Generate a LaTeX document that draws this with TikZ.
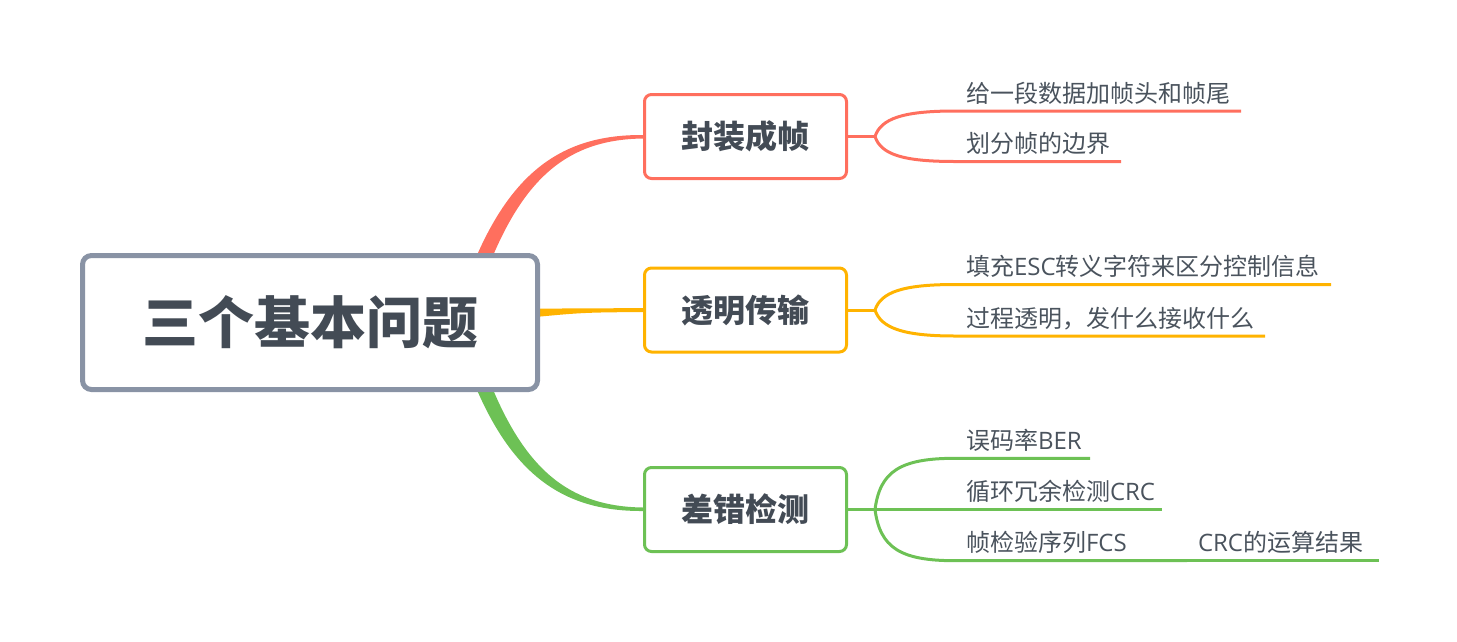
\documentclass[tikz,border=0pt]{standalone}
\usepackage{fontspec}
\setmainfont{Open Sans}
\newfontfamily\cjk{Noto Sans CJK SC}
\newfontfamily\lat{Open Sans}
\usetikzlibrary{calc}
\pgfdeclarelayer{bg}
\pgfsetlayers{bg,main}
\definecolor{cred}{HTML}{FF6F5E}
\definecolor{cyel}{HTML}{FFB300}
\definecolor{cgrn}{HTML}{6DC155}
\definecolor{cgray}{HTML}{8993A5}
\definecolor{ctext}{HTML}{434B55}
\definecolor{cleaf}{HTML}{4A535D}
\newcommand{\lf}[2]{\makebox[#1pt][l]{#2}}
\begin{document}
\begin{tikzpicture}[x=1pt,y=-1pt,
 rootbox/.style={draw=cgray, line width=5pt, fill=white, rounded corners=9pt, minimum width=455pt, minimum height=134pt, inner sep=0pt, text=ctext, font=\cjk\bfseries\fontsize{56}{56}\selectfont},
 topicbox/.style={draw=#1, line width=3pt, fill=white, rounded corners=7pt, minimum width=202pt, minimum height=84pt, inner sep=0pt, text=ctext, font=\cjk\bfseries\fontsize{32}{32}\selectfont},
 leaf/.style={anchor=south west, inner xsep=11pt, inner ysep=9pt, outer sep=0pt, text height=18pt, text depth=0pt, text=cleaf, font=\cjk\fontsize{24}{24}\selectfont},
 link/.style={draw=#1, line width=3pt},
]
\useasboundingbox (0,0) rectangle (1457,641);

\node[rootbox] (root) at (310,322.5) {三个基本问题};
\node[topicbox=cred] (b1) at (745.5,136.5) {封装成帧};
\node[topicbox=cyel] (b2) at (745.5,310) {透明传输};
\node[topicbox=cgrn] (b3) at (745.5,509.5) {差错检测};

\begin{pgfonlayer}{bg}
% root.north east = (540,253), b1.west = (643,136.5)
\fill[cred] ($(root.north east)+(-68,14)$) .. controls ($(b1.west)+(-131,31.5)$) and ($(b1.west)+(-77,-2)$) .. ($(b1.west)+(0,-1.5)$)
  -- ($(b1.west)+(0,2)$) .. controls ($(b1.west)+(-74,3)$) and ($(b1.west)+(-120,39.5)$) .. ($(root.north east)+(-54,20)$) -- cycle;
\fill[cyel] ($(root.east)+(-10,-14)$) .. controls ($(b2.west)+(-60,-1.5)$) .. ($(b2.west)+(0,-2)$)
  -- ($(b2.west)+(0,2)$) .. controls ($(b2.west)+(-60,2.5)$) .. ($(root.east)+(-10,-5)$) -- cycle;
\fill[cgrn] ($(root.south east)+(-68,-14)$) .. controls ($(b3.west)+(-131,-31.5)$) and ($(b3.west)+(-77,2)$) .. ($(b3.west)+(0,1.5)$)
  -- ($(b3.west)+(0,-2)$) .. controls ($(b3.west)+(-74,-3)$) and ($(b3.west)+(-120,-39.5)$) .. ($(root.south east)+(-54,-20)$) -- cycle;
\end{pgfonlayer}

% forks
\coordinate (f1) at ($(b1.east)+(27,0)$);
\coordinate (f2) at ($(b2.east)+(27,0)$);
\coordinate (f3) at ($(b3.east)+(27,0)$);

% leaves
\node[leaf] (l11) at (955,111) {\lf{264}{给一段数据加帧头和帧尾}};
\node[leaf] (l12) at (955,161.5) {\lf{144}{划分帧的边界}};
\node[leaf] (l21) at (955,284.5) {\lf{354}{填充{\lat ESC}转义字符来区分控制信息}};
\node[leaf] (l22) at (955,336) {\lf{288}{过程透明，发什么接收什么}};
\node[leaf] (l31) at (955,458.3) {\lf{113}{误码率{\lat BER}}};
\node[leaf] (l32) at (955,509.5) {\lf{185}{循环冗余检测{\lat CRC}}};
\node[leaf] (l33) at (955,560.7) {\lf{210}{帧检验序列{\lat FCS}}};
\node[leaf] (l34) at (l33.south east) {\lf{170}{{\lat CRC}的运算结果}};

\draw[link=cred] (b1.east) -- (f1);
\draw[link=cred] (f1) .. controls +(6,-18) and +(-52,0) .. (l11.south west) -- (l11.south east);
\draw[link=cred] (f1) .. controls +(6,18) and +(-52,0) .. (l12.south west) -- (l12.south east);

\draw[link=cyel] (b2.east) -- (f2);
\draw[link=cyel] (f2) .. controls +(6,-18) and +(-52,0) .. (l21.south west) -- (l21.south east);
\draw[link=cyel] (f2) .. controls +(6,18) and +(-52,0) .. (l22.south west) -- (l22.south east);

\draw[link=cgrn] (b3.east) -- (f3);
\draw[link=cgrn] (f3) .. controls +(5,-38) and +(-55,0) .. (l31.south west) -- (l31.south east);
\draw[link=cgrn] (f3) -- (l32.south west) -- (l32.south east);
\draw[link=cgrn] (f3) .. controls +(5,38) and +(-55,0) .. (l33.south west) -- (l33.south east);
\draw[link=cgrn] (l33.south east) -- (l34.south east);
\end{tikzpicture}
\end{document}
